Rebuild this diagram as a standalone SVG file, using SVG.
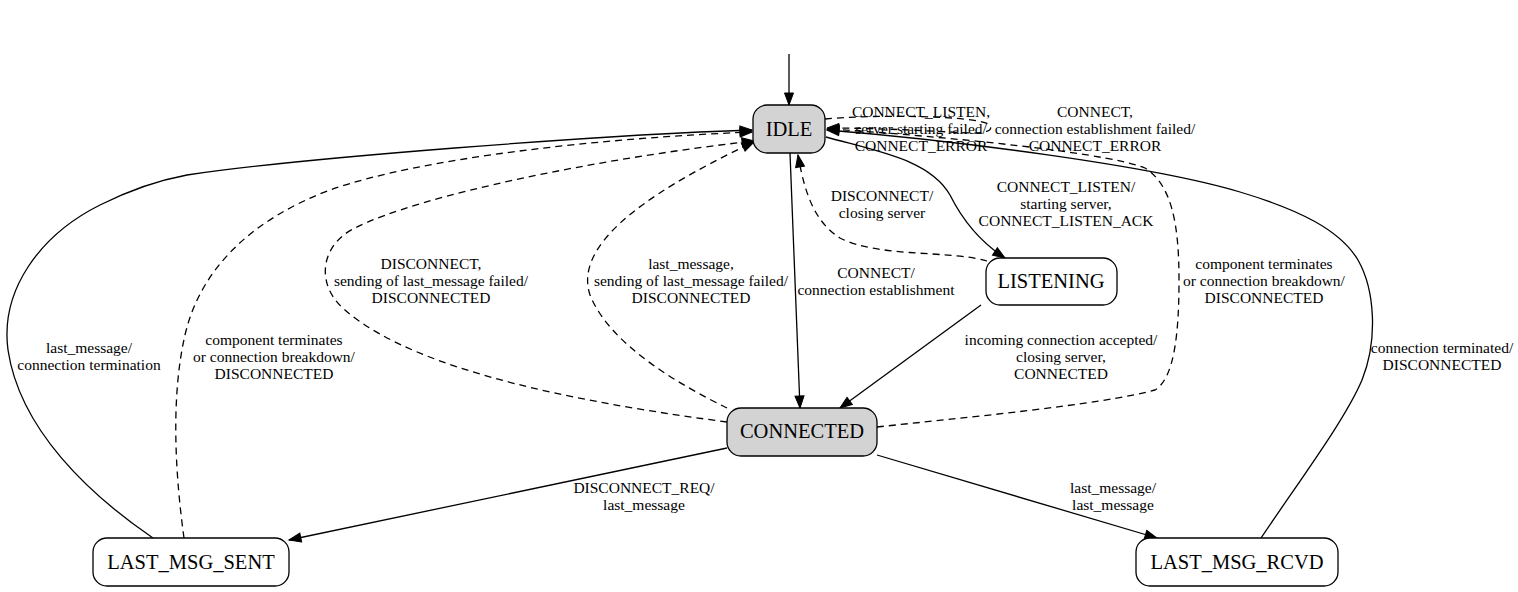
<svg xmlns="http://www.w3.org/2000/svg" width="1518" height="592" viewBox="0 0 1518 592">
<style>
.node rect{stroke:#000;stroke-width:1.3}
.gray{fill:#d3d3d3}
.white{fill:#fff}
text{font-family:'Liberation Serif','Times New Roman','DejaVu Serif',serif}
.nt{font-size:20.5px;text-anchor:middle;fill:#000}
.lt{font-size:15.5px;text-anchor:middle;fill:#000}
.e{fill:none;stroke:#000;stroke-width:1.3;marker-end:url(#ah)}
.d{stroke-dasharray:7,5}
</style>
<defs>
<marker id="ah" markerUnits="userSpaceOnUse" markerWidth="13" markerHeight="10" refX="12" refY="4.5" orient="auto" overflow="visible">
<path d="M0,0 L12,4.5 L0,9 z" fill="#000" stroke="#000" stroke-width="1"/>
</marker>
</defs>
<rect width="1518" height="592" fill="#fff"/>
<g id="connectors">
<path class="e" d="M789,54 L789,105"/>
<path class="e" d="M790,153 L800,408"/>
<path class="e" d="M826,137 C880,152 930,160 950,195 C965,225 985,245 1005,258"/>
<path class="e d" d="M987,261 C950,250 880,258 840,238 C815,222 805,195 798,155"/>
<path class="e" d="M981,305 L840,408"/>
<path class="e d" d="M825,119 C880,114 975,116 988,124 C996,130 985,134 970,133 C930,131 880,128 827,128"/>
<path class="e" d="M727,448 L289,540"/>
<path class="e" d="M877,455 L1157,538"/>
<path class="e" d="M1261,538 C1300,480 1345,420 1362,380 C1378,340 1375,290 1358,260 C1340,230 1300,210 1240,192 C1150,165 950,140 827,130"/>
<path class="e d" d="M877,427 C960,418 1100,405 1155,390 C1175,378 1179,330 1179,280 C1179,225 1172,185 1145,168 C1100,150 900,133 827,129"/>
<path class="e" d="M153,538 C90,495 20,430 8,350 C0,290 40,235 100,205 C130,190 160,180 187,175 C300,158 600,135 752,130"/>
<path class="e d" d="M184,538 C176,480 170,400 185,335 C200,270 250,220 330,190 C420,158 600,138 752,132"/>
<path class="e d" d="M727,422 C600,405 420,375 345,310 C315,285 320,245 355,228 C420,195 600,158 754,141"/>
<path class="e d" d="M727,408 C680,385 610,345 590,295 C575,250 630,200 754,142"/>
</g>
<g id="edge-labels">
<text class="lt" x="921" y="117">CONNECT_LISTEN,</text>
<text class="lt" x="921" y="134">server starting failed/</text>
<text class="lt" x="921" y="151">CONNECT_ERROR</text>
<text class="lt" x="1095" y="117">CONNECT,</text>
<text class="lt" x="1095" y="134">connection establishment failed/</text>
<text class="lt" x="1095" y="151">CONNECT_ERROR</text>
<text class="lt" x="1066" y="192">CONNECT_LISTEN/</text>
<text class="lt" x="1066" y="209">starting server,</text>
<text class="lt" x="1066" y="226">CONNECT_LISTEN_ACK</text>
<text class="lt" x="882" y="201">DISCONNECT/</text>
<text class="lt" x="882" y="218">closing server</text>
<text class="lt" x="876" y="278">CONNECT/</text>
<text class="lt" x="876" y="295">connection establishment</text>
<text class="lt" x="1061" y="345">incoming connection accepted/</text>
<text class="lt" x="1061" y="362">closing server,</text>
<text class="lt" x="1061" y="379">CONNECTED</text>
<text class="lt" x="431" y="269">DISCONNECT,</text>
<text class="lt" x="431" y="286">sending of last_message failed/</text>
<text class="lt" x="431" y="303">DISCONNECTED</text>
<text class="lt" x="691" y="269">last_message,</text>
<text class="lt" x="691" y="286">sending of last_message failed/</text>
<text class="lt" x="691" y="303">DISCONNECTED</text>
<text class="lt" x="1264" y="269">component terminates</text>
<text class="lt" x="1264" y="286">or connection breakdown/</text>
<text class="lt" x="1264" y="303">DISCONNECTED</text>
<text class="lt" x="89" y="353">last_message/</text>
<text class="lt" x="89" y="370">connection termination</text>
<text class="lt" x="274" y="345">component terminates</text>
<text class="lt" x="274" y="362">or connection breakdown/</text>
<text class="lt" x="274" y="379">DISCONNECTED</text>
<text class="lt" x="1442" y="353">connection terminated/</text>
<text class="lt" x="1442" y="370">DISCONNECTED</text>
<text class="lt" x="644" y="493">DISCONNECT_REQ/</text>
<text class="lt" x="644" y="510">last_message</text>
<text class="lt" x="1113" y="493">last_message/</text>
<text class="lt" x="1113" y="510">last_message</text>
</g>
<g id="IDLE" class="node">
<rect class="gray" x="753" y="105" width="72" height="48" rx="14"/>
<text class="nt" x="789" y="136">IDLE</text>
</g>
<g id="LISTENING" class="node">
<rect class="white" x="986" y="258" width="131" height="47" rx="14"/>
<text class="nt" x="1051" y="288">LISTENING</text>
</g>
<g id="CONNECTED" class="node">
<rect class="gray" x="727" y="408" width="150" height="48" rx="14"/>
<text class="nt" x="802" y="438">CONNECTED</text>
</g>
<g id="LAST_MSG_SENT" class="node">
<rect class="white" x="93" y="538" width="196" height="48" rx="14"/>
<text class="nt" x="191" y="569">LAST_MSG_SENT</text>
</g>
<g id="LAST_MSG_RCVD" class="node">
<rect class="white" x="1136" y="538" width="202" height="48" rx="14"/>
<text class="nt" x="1237" y="569">LAST_MSG_RCVD</text>
</g>
</svg>
